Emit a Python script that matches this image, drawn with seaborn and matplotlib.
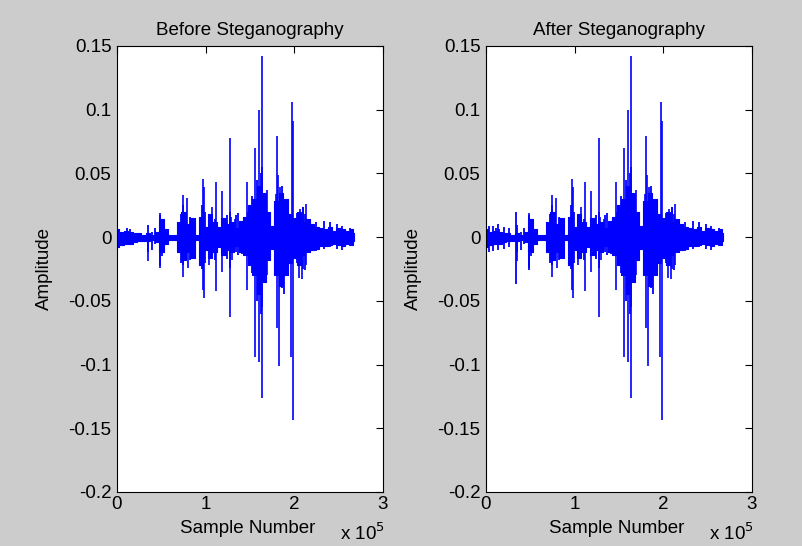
import numpy as np
import seaborn as sns
from matplotlib import pyplot as plt

# envelope of the dense part of the waveform (sample number in 1e5, upper / lower amplitude)
env_x = [0.00, 0.05, 0.10, 0.15, 0.20, 0.25, 0.30, 0.35, 0.40, 0.45, 0.50, 0.55, 0.60, 0.65,
         0.70, 0.75, 0.80, 0.85, 0.90, 0.95, 1.00, 1.05, 1.10, 1.15, 1.20, 1.25, 1.30, 1.35,
         1.40, 1.45, 1.50, 1.55, 1.60, 1.65, 1.70, 1.75, 1.80, 1.85, 1.90, 1.95, 2.00, 2.05,
         2.10, 2.15, 2.20, 2.25, 2.30, 2.35, 2.40, 2.45, 2.50, 2.55, 2.60, 2.65, 2.675]
env_hi = [0.006, 0.004, 0.005, 0.004, 0.003, 0.003, 0.002, 0.003, 0.002, 0.004, 0.014, 0.006,
          0.002, 0.002, 0.012, 0.020, 0.010, 0.015, 0.002, 0.016, 0.008, 0.018, 0.012, 0.008,
          0.015, 0.010, 0.012, 0.007, 0.013, 0.016, 0.025, 0.030, 0.040, 0.035, 0.020, 0.009,
          0.028, 0.035, 0.030, 0.018, 0.015, 0.020, 0.012, 0.014, 0.010, 0.008, 0.007, 0.006,
          0.008, 0.005, 0.007, 0.006, 0.005, 0.006, 0.003]
env_lo = [-0.008, -0.006, -0.005, -0.005, -0.004, -0.003, -0.003, -0.003, -0.002, -0.004,
          -0.012, -0.005, -0.002, -0.002, -0.012, -0.018, -0.012, -0.016, -0.002, -0.022,
          -0.010, -0.016, -0.012, -0.008, -0.014, -0.010, -0.012, -0.007, -0.012, -0.014,
          -0.022, -0.030, -0.045, -0.035, -0.018, -0.009, -0.030, -0.038, -0.030, -0.020,
          -0.016, -0.022, -0.014, -0.012, -0.010, -0.009, -0.007, -0.007, -0.006, -0.005,
          -0.006, -0.007, -0.005, -0.006, -0.003]

# medium strokes that poke out of the body
st_x = [0.11, 0.15, 0.35, 0.40, 0.43, 0.48, 0.51, 0.72, 0.75, 0.78, 0.82, 0.96, 0.99, 1.05,
        1.10, 1.24, 1.28, 1.34, 1.36, 1.41, 1.48, 1.52, 1.58, 1.62, 1.67, 1.72, 1.86, 1.88,
        1.91, 1.93, 1.95, 2.03, 2.10, 2.12, 2.19, 2.25, 2.33, 2.40, 2.48, 2.54, 2.63]
st_hi = [0.0068, 0.0063, 0.0094, 0.004, 0.0073, 0.017, 0.012, 0.018, 0.025, 0.014, 0.016,
         0.025, 0.020, 0.015, 0.014, 0.017, 0.020, 0.017, 0.0186, 0.013, 0.020, 0.032, 0.045,
         0.050, 0.030, 0.010, 0.040, 0.030, 0.015, 0.025, 0.016, 0.019, 0.024, 0.018, 0.010,
         0.012, 0.013, 0.012, 0.010, 0.009, 0.007]
st_lo = [-0.006, -0.005, -0.0115, -0.010, -0.005, -0.023, -0.015, -0.020, -0.022, -0.016,
         -0.018, -0.025, -0.020, -0.016, -0.018, -0.017, -0.024, -0.012, -0.014, -0.013,
         -0.015, -0.028, -0.050, -0.060, -0.035, -0.010, -0.040, -0.045, -0.020, -0.030,
         -0.018, -0.020, -0.025, -0.026, -0.010, -0.011, -0.009, -0.008, -0.009, -0.010,
         -0.007]

# isolated peaks: position (1e5) and amplitude
pk_x = [1.63, 1.605, 1.97, 1.985, 1.27, 1.556, 1.80, 1.82, 0.966, 0.98, 1.12, 1.47, 1.64,
        1.18, 0.75, 0.79, 1.69, 1.84, 2.13, 0.49, 1.07, 2.06, 2.10, 1.285, 1.33, 1.79]
pk_y = [0.142, 0.100, 0.106, 0.091, 0.078, 0.070, 0.079, 0.049, 0.0455, 0.039, 0.043, 0.043,
        0.055, 0.036, 0.033, 0.031, 0.037, 0.039, 0.026, 0.019, 0.024, 0.022, 0.024, 0.016,
        0.014, 0.034]
tr_x = [1.98, 1.63, 1.556, 1.60, 1.83, 1.96, 1.81, 1.64, 1.27, 0.985, 0.97, 1.12, 1.47, 0.75,
        0.80, 0.48, 0.346, 1.835, 2.05, 2.09, 2.13, 1.53, 1.18, 1.04, 1.69, 1.30]
tr_y = [-0.1436, -0.1266, -0.0944, -0.098, -0.101, -0.0944, -0.071, -0.055, -0.063, -0.0476,
        -0.0416, -0.042, -0.0416, -0.031, -0.024, -0.024, -0.019, -0.0395, -0.032, -0.033,
        -0.022, -0.019, -0.027, -0.022, -0.030, -0.018]

# extra components visible only after embedding
ex_x = [0.005, 0.03, 0.08, 0.14, 0.20, 0.26, 0.34, 0.49]
ex_hi = [0.012, 0.009, 0.009, 0.010, 0.008, 0.007, 0.020, 0.016]
ex_lo = [-0.015, -0.012, -0.011, -0.010, -0.009, -0.008, -0.037, -0.026]

titles = ["Before Steganography", "After Steganography"]
xticks = [0, 1, 2, 3]
yticks = [0.15, 0.1, 0.05, 0, -0.05, -0.1, -0.15, -0.2]

sns.set_style("white")
plt.rcParams["font.family"] = ["Liberation Sans", "DejaVu Sans"]
plt.rcParams["text.color"] = "black"
plt.rcParams["axes.labelcolor"] = "black"

fig = plt.figure(figsize=(8.03, 5.46), dpi=100, facecolor="#cccccc")
lefts = [117 / 803, 486 / 803]

for i, title in enumerate(titles):
    ax = fig.add_axes([lefts[i], 54 / 546, 266 / 803, 446 / 546])
    ax.set_facecolor("white")
    ax.fill_between(env_x, env_lo, env_hi, step="mid", color="blue", lw=0.8)
    ax.vlines(st_x, st_lo, st_hi, color="blue", lw=1.3)
    ax.vlines(pk_x, 0, pk_y, color="blue", lw=1.2)
    ax.vlines(tr_x, 0, tr_y, color="blue", lw=1.2)
    if i == 1:
        ax.vlines(ex_x, ex_lo, ex_hi, color="blue", lw=1.3)
    ax.set_xlim(0, 3)
    ax.set_ylim(-0.2, 0.15)
    ax.set_xticks(xticks)
    ax.set_xticklabels([str(t) for t in xticks])
    ax.set_yticks(yticks)
    ax.set_yticklabels(["%g" % t for t in yticks])
    ax.tick_params(direction="in", length=5, width=0.8, top=True, right=True,
                   colors="black", labelsize=13.5)
    ax.tick_params(axis="y", pad=4)
    ax.tick_params(axis="x", pad=3)
    for s in ax.spines.values():
        s.set_color("black")
        s.set_linewidth(0.8)
    ax.set_title(title, fontsize=13.5, pad=8, color="black")
    ax.set_xlabel("Sample Number", fontsize=13.5)
    ax.set_ylabel("Amplitude", fontsize=13.5)
    ax.xaxis.set_label_coords(0.49, -0.081)
    ax.xaxis.label.set_va("center")
    ax.yaxis.set_label_coords(-0.271, 0.5)
    ax.yaxis.label.set_va("center")
    ax.text(1.008, -0.108, r"x 10$^{5}$", transform=ax.transAxes, ha="right",
            va="baseline", fontsize=13.5, color="black")

fig.savefig("out.png", dpi=100, facecolor=fig.get_facecolor())
